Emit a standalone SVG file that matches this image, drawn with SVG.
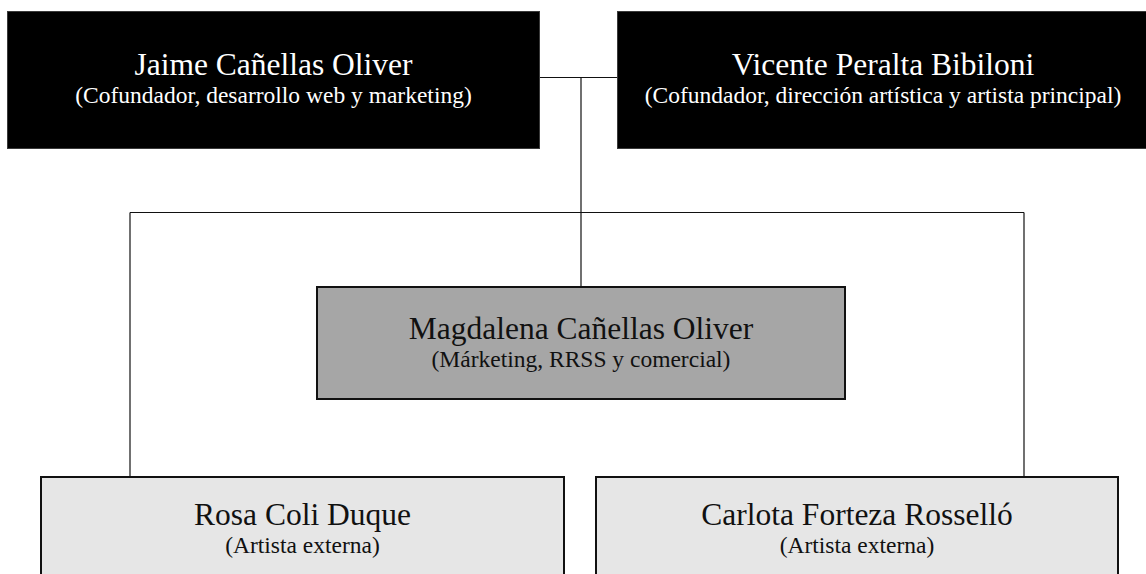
<svg xmlns="http://www.w3.org/2000/svg" width="1146" height="574" viewBox="0 0 1146 574">
<style>
text{font-family:"Liberation Serif","Times New Roman",serif;text-anchor:middle}
.t{font-size:31.5px}
.s{font-size:23.5px}
.dark rect{fill:#000;stroke:#3a3a3a;stroke-width:1}
.dark text{fill:#fff}
.mid rect{fill:#a6a6a6;stroke:#111;stroke-width:2}
.low rect{fill:#e6e6e6;stroke:#111;stroke-width:2}
.mid text,.low text{fill:#111}
.conn{fill:none;stroke:#111;stroke-width:1.2}
</style>
<rect width="1146" height="574" fill="#fff"/>
<g id="connectors" class="conn">
<path d="M540 77.5H617"/>
<path d="M581 77.5V286"/>
<path d="M130 212.5H1024"/>
<path d="M130 212.5V477"/>
<path d="M1024 212.5V477"/>
</g>
<g id="jaime" class="dark">
<rect x="7.5" y="11.5" width="532" height="137"/>
<text class="t" x="273.5" y="75">Jaime Cañellas Oliver</text>
<text class="s" x="273.5" y="103">(Cofundador, desarrollo web y marketing)</text>
</g>
<g id="vicente" class="dark">
<rect x="617.5" y="11.5" width="532" height="137"/>
<text class="t" x="883" y="75">Vicente Peralta Bibiloni</text>
<text class="s" x="883" y="103">(Cofundador, dirección artística y artista principal)</text>
</g>
<g id="magdalena" class="mid">
<rect x="317" y="287" width="528" height="112"/>
<text class="t" x="581" y="339">Magdalena Cañellas Oliver</text>
<text class="s" x="581" y="367">(Márketing, RRSS y comercial)</text>
</g>
<g id="rosa" class="low">
<rect x="41" y="477" width="523" height="120"/>
<text class="t" x="302.5" y="525">Rosa Coli Duque</text>
<text class="s" x="302.5" y="553">(Artista externa)</text>
</g>
<g id="carlota" class="low">
<rect x="596" y="477" width="522" height="120"/>
<text class="t" x="857" y="525">Carlota Forteza Rosselló</text>
<text class="s" x="857" y="553">(Artista externa)</text>
</g>
</svg>
